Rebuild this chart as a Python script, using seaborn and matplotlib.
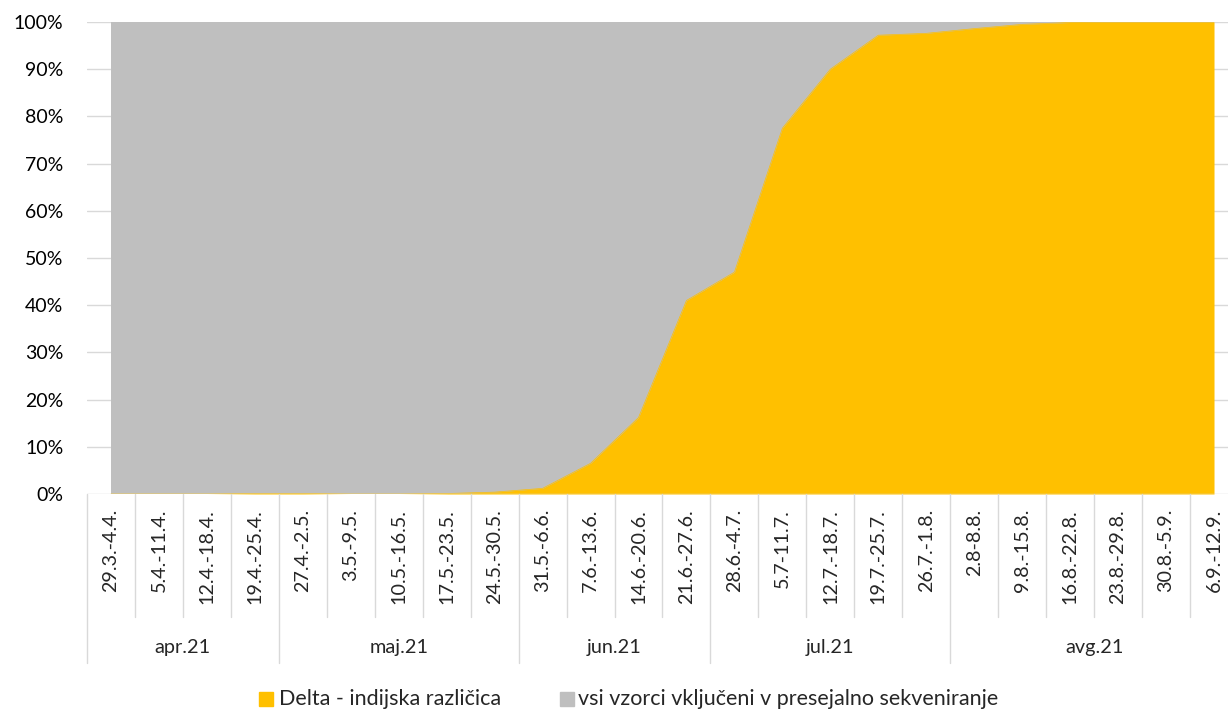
import matplotlib
matplotlib.use("Agg")
import matplotlib.pyplot as plt
import matplotlib.transforms as mtransforms
from matplotlib.patches import Rectangle
import seaborn as sns
import pandas as pd
import numpy as np

weeks = ["29.3.-4.4.", "5.4.-11.4.", "12.4.-18.4.", "19.4.-25.4.", "27.4.-2.5.",
         "3.5.-9.5.", "10.5.-16.5.", "17.5.-23.5.", "24.5.-30.5.", "31.5.-6.6.",
         "7.6.-13.6.", "14.6.-20.6.", "21.6.-27.6.", "28.6.-4.7.", "5.7-11.7.",
         "12.7.-18.7.", "19.7.-25.7.", "26.7.-1.8.", "2.8-8.8.", "9.8.-15.8.",
         "16.8.-22.8.", "23.8.-29.8.", "30.8.-5.9.", "6.9.-12.9."]
delta = [0.0, 0.0, 0.0, 0.1, 0.1, 0.0, 0.0, 0.1, 0.4, 1.2,
         6.5, 16.2, 41.0, 47.0, 77.5, 90.0, 97.2, 97.6, 98.6, 99.5,
         99.9, 100.0, 100.0, 100.0]
vsi = [100.0] * 24
months = ["apr.21", "maj.21", "jun.21", "jul.21", "avg.21"]
month_sizes = [4, 5, 4, 5, 6]
series_names = ["Delta - indijska različica", "vsi vzorci vključeni v presejalno sekveniranje"]
colors = ["#FFC000", "#BFBFBF"]

sns.set_theme(style="white")
plt.rcParams['font.family'] = ['Lato', 'DejaVu Sans']

W, H = 1228, 709
fig = plt.figure(figsize=(W / 100, H / 100), dpi=100)
left, right, top, bottom = 87, 1238, 22, 494
ax = fig.add_axes([left / W, 1 - bottom / H, (right - left) / W, (bottom - top) / H])

df = pd.DataFrame({"x": np.arange(len(weeks)), "delta": delta, "vsi": vsi})

for v in range(10, 101, 10):
    ax.axhline(v, color="#D9D9D9", lw=1, zorder=0)
ax.axhline(0, color="#D9D9D9", lw=1, zorder=5)

ax.fill_between(df["x"], 0, df["vsi"], color=colors[1], lw=0, zorder=1)
ax.fill_between(df["x"], 0, df["delta"], color=colors[0], lw=0, zorder=2)
sns.lineplot(data=df, x="x", y="delta", color=colors[0], lw=0.5, ax=ax, zorder=3)

ax.set_xlim(-0.5, len(weeks) - 0.5)
ax.set_ylim(0, 100)
ax.set_yticks(range(0, 101, 10))
ax.set_yticklabels([f"{v}%" for v in range(0, 101, 10)], fontsize=14, color="#000000")
ax.tick_params(axis="y", length=0, pad=17)
ax.set_xticks([])
ax.set_xlabel("")
ax.set_ylabel("")
for s in ax.spines.values():
    s.set_visible(False)

trans = mtransforms.blended_transform_factory(ax.transData, ax.transAxes)
ph = bottom - top
y_week_top = -(509 - bottom) / ph
y_week_line = -(617 - bottom) / ph
y_month_line = -(663 - bottom) / ph
y_month_text = -(648 - bottom) / ph

for i, w in enumerate(weeks):
    ax.text(i, y_week_top, w, rotation=90, ha="center", va="top", fontsize=14.2,
            transform=trans, clip_on=False)

bounds = list(np.cumsum([0] + month_sizes) - 0.5)
for b in np.arange(-0.5, len(weeks), 1.0):
    is_month = any(abs(b - mb) < 1e-6 for mb in bounds)
    y1 = y_month_line if is_month else y_week_line
    ax.plot([b, b], [0, y1], color="#D9D9D9", lw=1, transform=trans, clip_on=False)

for m, a, bnd in zip(months, bounds[:-1], bounds[1:]):
    ax.text((a + bnd) / 2, y_month_text, m, ha="center", va="center", fontsize=14.3,
            transform=trans, clip_on=False)

# legend
leg_items = [(259, 279), (560, 578)]
for (sx, tx), name, c in zip(leg_items, series_names, colors):
    fig.patches.append(Rectangle((sx / W, 1 - 706 / H), 14 / W, 14 / H, color=c,
                                 transform=fig.transFigure, figure=fig))
    fig.text(tx / W, 1 - 699 / H, name, ha="left", va="center", fontsize=15.5)

fig.savefig("out.png", dpi=100)
